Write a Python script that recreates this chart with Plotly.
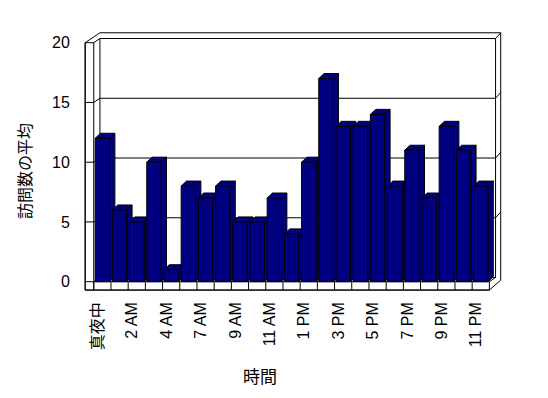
import plotly.graph_objects as go

# ---- data ----
hours = ["真夜中", "1 AM", "2 AM", "3 AM", "4 AM", "5 AM", "7 AM", "8 AM", "9 AM", "10 AM",
         "11 AM", "正午", "1 PM", "2 PM", "3 PM", "4 PM", "5 PM", "6 PM", "7 PM", "8 PM",
         "9 PM", "10 PM", "11 PM"]
visits = [12, 6, 5, 10, 1, 8, 7, 8, 5, 5, 7, 4, 10, 17, 13, 13, 14, 8, 11, 7, 13, 11, 8]
y_ticks = [0, 5, 10, 15, 20]
x_title = "時間"
y_title = "訪問数の平均"

NAVY = "#000080"
n = len(hours)
pos = list(range(n))
ymax = y_ticks[-1]

# ---- 3D frame geometry (data units) ----
BAR_W = 0.837
BDX, BDY = 0.31, 0.42          # bar depth
XL_OUT, XL, XR = -1.0, -0.5, n - 0.5
DX1, DY1 = 0.36, 0.35          # wall depth
DX2, DY2 = 0.30, 0.48          # wall thickness
FLOOR = -0.7


def path(pts, close=False):
    s = "M " + " L ".join(f"{x:.4f},{y:.4f}" for x, y in pts)
    return s + (" Z" if close else "")


def multi(segs):
    return " ".join(path(s) for s in segs)


shapes = []


def add(p, fill=None):
    d = dict(type="path", path=p, xref="x", yref="y", layer="below",
             line=dict(color="black", width=1))
    d["fillcolor"] = fill if fill else "rgba(0,0,0,0)"
    shapes.append(d)


# silhouette
add(path([(XL_OUT, FLOOR), (XL_OUT, ymax), (XL + DX1, ymax + DY1 + DY2),
          (XR + DX1 + DX2, ymax + DY1 + DY2), (XR + DX1 + DX2, FLOOR + DY1 + DY2),
          (XR, FLOOR)], close=True), "white")
# floor front strip
add(path([(XL, FLOOR), (XR, FLOOR), (XR, 0), (XL, 0)], close=True))
add(multi([[(k - 0.5, FLOOR), (k - 0.5, 0)] for k in range(1, n)]))
# left wall front strip
add(path([(XL_OUT, FLOOR), (XL, FLOOR), (XL, ymax), (XL_OUT, ymax)], close=True))
add(multi([[(XL_OUT, v), (XL, v)] for v in y_ticks[:-1]]))
# inner edges
add(multi([[(XL, ymax), (XL + DX1, ymax + DY1)],
           [(XL, 0), (XL + DX1, DY1)],
           [(XR, 0), (XR + DX1, DY1)],
           [(XR + DX1, ymax + DY1), (XR + DX1 + DX2, ymax + DY1 + DY2)]]))
# back wall face
add(path([(XL + DX1, DY1), (XR + DX1, DY1), (XR + DX1, ymax + DY1), (XL + DX1, ymax + DY1)], close=True))
# gridlines
add(multi([[(XL, v), (XL + DX1, v + DY1), (XR + DX1, v + DY1),
            (XR + DX1 + DX2, v + DY1 + DY2)] for v in y_ticks[1:-1]]))

# bar tops and sides
for i, v in zip(pos, visits):
    x0, x1 = i - BAR_W / 2, i + BAR_W / 2
    add(path([(x1, 0), (x1, v), (x1 + BDX, v + BDY), (x1 + BDX, BDY)], close=True), NAVY)
    add(path([(x0, v), (x0 + BDX, v + BDY), (x1 + BDX, v + BDY), (x1, v)], close=True), NAVY)

fig = go.Figure()
fig.add_trace(go.Bar(x=pos, y=visits, width=BAR_W,
                     marker=dict(color=NAVY, line=dict(color="black", width=1)),
                     hoverinfo="skip"))

FONT = "Liberation Sans, Arial, Noto Sans CJK JP"
fig.update_layout(
    width=548, height=398,
    margin=dict(l=80, r=38, t=28, b=100),
    paper_bgcolor="white", plot_bgcolor="white",
    showlegend=False,
    shapes=shapes,
    font=dict(family=FONT, size=16, color="black"),
    xaxis=dict(range=[-1.3, 23.7], tickmode="array",
               tickvals=[i - 0.27 for i in pos[::2]], ticktext=hours[::2],
               tickangle=-90, showgrid=False, zeroline=False, showline=False, ticks="",
               tickfont=dict(family=FONT, size=16, color="black")),
    yaxis=dict(range=[-1.364, 21.23], tickmode="array", tickvals=y_ticks,
               ticks="outside", ticklen=6, tickcolor="rgba(0,0,0,0)",
               showgrid=False, zeroline=False, showline=False,
               tickfont=dict(family=FONT, size=16, color="black")),
    annotations=[
        dict(text=y_title, xref="paper", yref="paper", x=(24 - 80) / 430, y=(298 - 171) / 270,
             xanchor="center", yanchor="middle", textangle=-90, showarrow=False,
             font=dict(family="Noto Sans CJK JP", size=16, color="black")),
        dict(text=x_title, xref="paper", yref="paper", x=(259.5 - 80) / 430, y=(298 - 375.5) / 270,
             xanchor="center", yanchor="middle", showarrow=False,
             font=dict(family="Noto Sans CJK JP", size=17, color="black")),
    ],
)

fig.write_html("out.html")
